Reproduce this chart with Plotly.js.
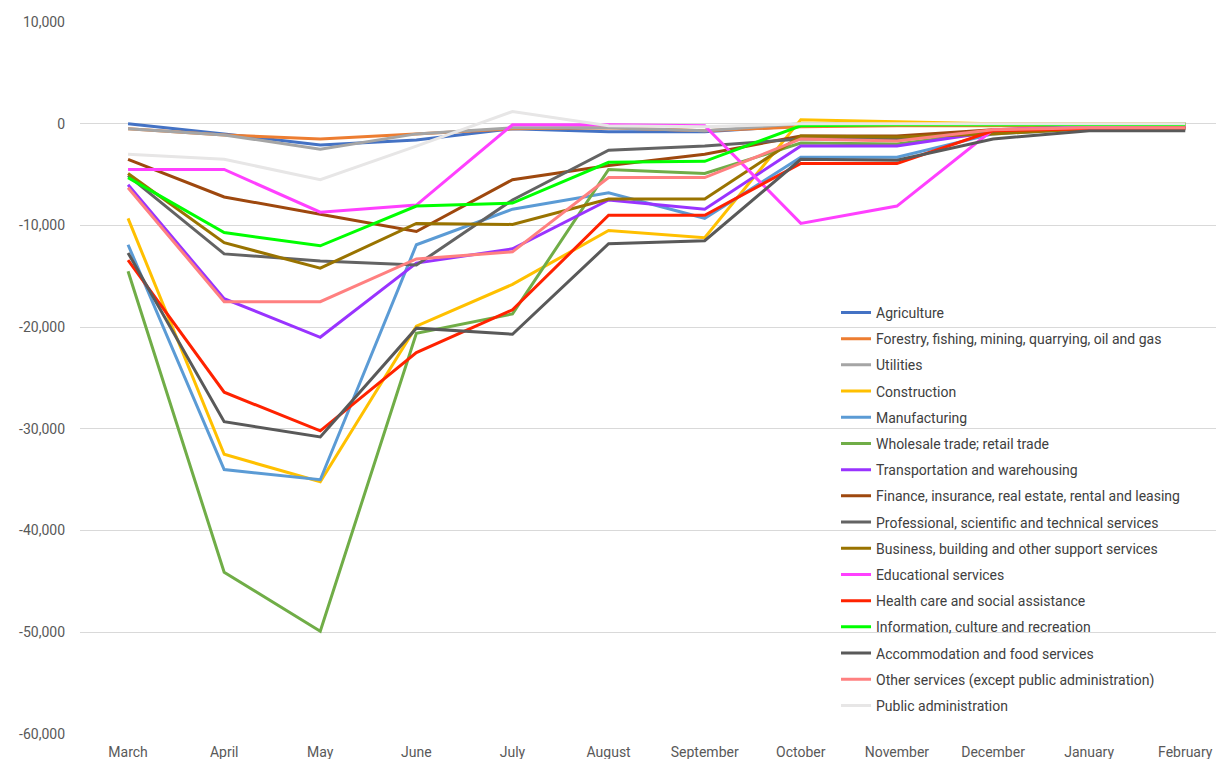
<!DOCTYPE html>
<html>
<head>
<meta charset="utf-8">
<script src="https://cdn.plot.ly/plotly-3.0.1.min.js"></script>
<style>html,body{margin:0;padding:0;background:#fff;}#chart{width:1216px;height:759px;}</style>
</head>
<body>
<div id="chart"></div>
<script>
const months = ["March","April","May","June","July","August","September","October","November","December","January","February"];

const yTickValues = [10000, 0, -10000, -20000, -30000, -40000, -50000, -60000];
const yTickLabels = ["10,000", "0", "-10,000", "-20,000", "-30,000", "-40,000", "-50,000", "-60,000"];

const agriculture     = [0, -1000, -2100, -1600, -500, -800, -800, -200, 0, 0, 0, 0];
const forestry        = [-500, -1100, -1500, -1000, -500, -400, -700, -300, -200, -200, -200, -200];
const utilities       = [-500, -1100, -2500, -1000, -400, -400, -700, 0, 0, 0, 0, 0];
const construction    = [-9300, -32500, -35200, -19900, -15800, -10500, -11200, 400, 200, 0, 0, 0];
const manufacturing   = [-11900, -34000, -35000, -11900, -8400, -6800, -9300, -3300, -3300, -1000, -500, -500];
const wholesale       = [-14500, -44100, -49900, -20600, -18700, -4500, -4900, -1900, -2000, -800, -200, 0];
const transportation  = [-6000, -17200, -21000, -13700, -12300, -7500, -8400, -2200, -2200, -800, -300, -300];
const finance         = [-3500, -7200, -8900, -10600, -5500, -4100, -3000, -1200, -1200, -600, -300, -300];
const professional    = [-5100, -12800, -13500, -13900, -7500, -2600, -2200, -1500, -1500, -800, -500, -500];
const business        = [-4900, -11700, -14200, -9800, -9900, -7400, -7400, -1200, -1300, -1000, -500, -500];
const educational     = [-4500, -4500, -8700, -8000, -100, -100, -200, -9800, -8100, -600, -300, -300];
const health          = [-13400, -26400, -30200, -22500, -18300, -9000, -9000, -3900, -3900, -700, -500, -400];
const information     = [-5300, -10700, -12000, -8100, -7800, -3800, -3700, -200, -100, -100, -100, -100];
const accommodation   = [-12700, -29300, -30800, -20100, -20700, -11800, -11500, -3500, -3600, -1500, -700, -700];
const otherServices   = [-6300, -17500, -17500, -13300, -12600, -5300, -5300, -1500, -1700, -600, -400, -400];
const publicAdmin     = [-3000, -3500, -5500, -2200, 1200, -200, -300, 0, 0, 0, 0, 0];

const seriesNames = [
  "Agriculture",
  "Forestry, fishing, mining, quarrying, oil and gas",
  "Utilities",
  "Construction",
  "Manufacturing",
  "Wholesale trade; retail trade",
  "Transportation and warehousing",
  "Finance, insurance, real estate, rental and leasing",
  "Professional, scientific and technical services",
  "Business, building and other support services",
  "Educational services",
  "Health care and social assistance",
  "Information, culture and recreation",
  "Accommodation and food services",
  "Other services (except public administration)",
  "Public administration"
];
const seriesValues = [agriculture, forestry, utilities, construction, manufacturing, wholesale,
  transportation, finance, professional, business, educational, health, information,
  accommodation, otherServices, publicAdmin];
const seriesColors = ["#4472C4","#ED7D31","#A5A5A5","#FFC000","#5B9BD5","#70AD47",
  "#9933FF","#9E480E","#636363","#997300","#FF40FF","#FF2200","#00FF00",
  "#595959","#FF8080","#E7E6E6"];

const traces = seriesNames.map((n, i) => ({
  type: "scatter",
  mode: "lines",
  name: n,
  x: months,
  y: seriesValues[i],
  legendgroup: "g" + i,
  line: {color: seriesColors[i], width: 3}
}));

const layout = {
  width: 1216,
  height: 759,
  margin: {l: 80, r: 0, t: 22, b: 25},
  paper_bgcolor: "#ffffff",
  plot_bgcolor: "#ffffff",
  font: {family: "Roboto, sans-serif", size: 14, color: "#595959"},
  showlegend: true,
  legend: {
    x: 0.6655, xanchor: "left",
    y: 0.614, yanchor: "top",
    font: {size: 14, color: "#404040"},
    tracegroupgap: 5,
    bgcolor: "rgba(255,255,255,0)"
  },
  xaxis: {
    type: "category",
    range: [-0.5, 11.32],
    showgrid: false,
    zeroline: false,
    showline: false,
    ticks: "",
    ticklabelstandoff: 8,
    tickfont: {size: 14, color: "#595959"},
    fixedrange: true
  },
  yaxis: {
    range: [-60000, 10000],
    tickmode: "array",
    tickvals: yTickValues,
    ticktext: yTickLabels,
    showgrid: true,
    gridcolor: "#D9D9D9",
    gridwidth: 1,
    zeroline: false,
    showline: false,
    ticks: "",
    ticklabelstandoff: 14,
    tickfont: {size: 14, color: "#595959"},
    fixedrange: true
  }
};

Plotly.newPlot("chart", traces, layout, {displayModeBar: false, staticPlot: true});
</script>
</body>
</html>
